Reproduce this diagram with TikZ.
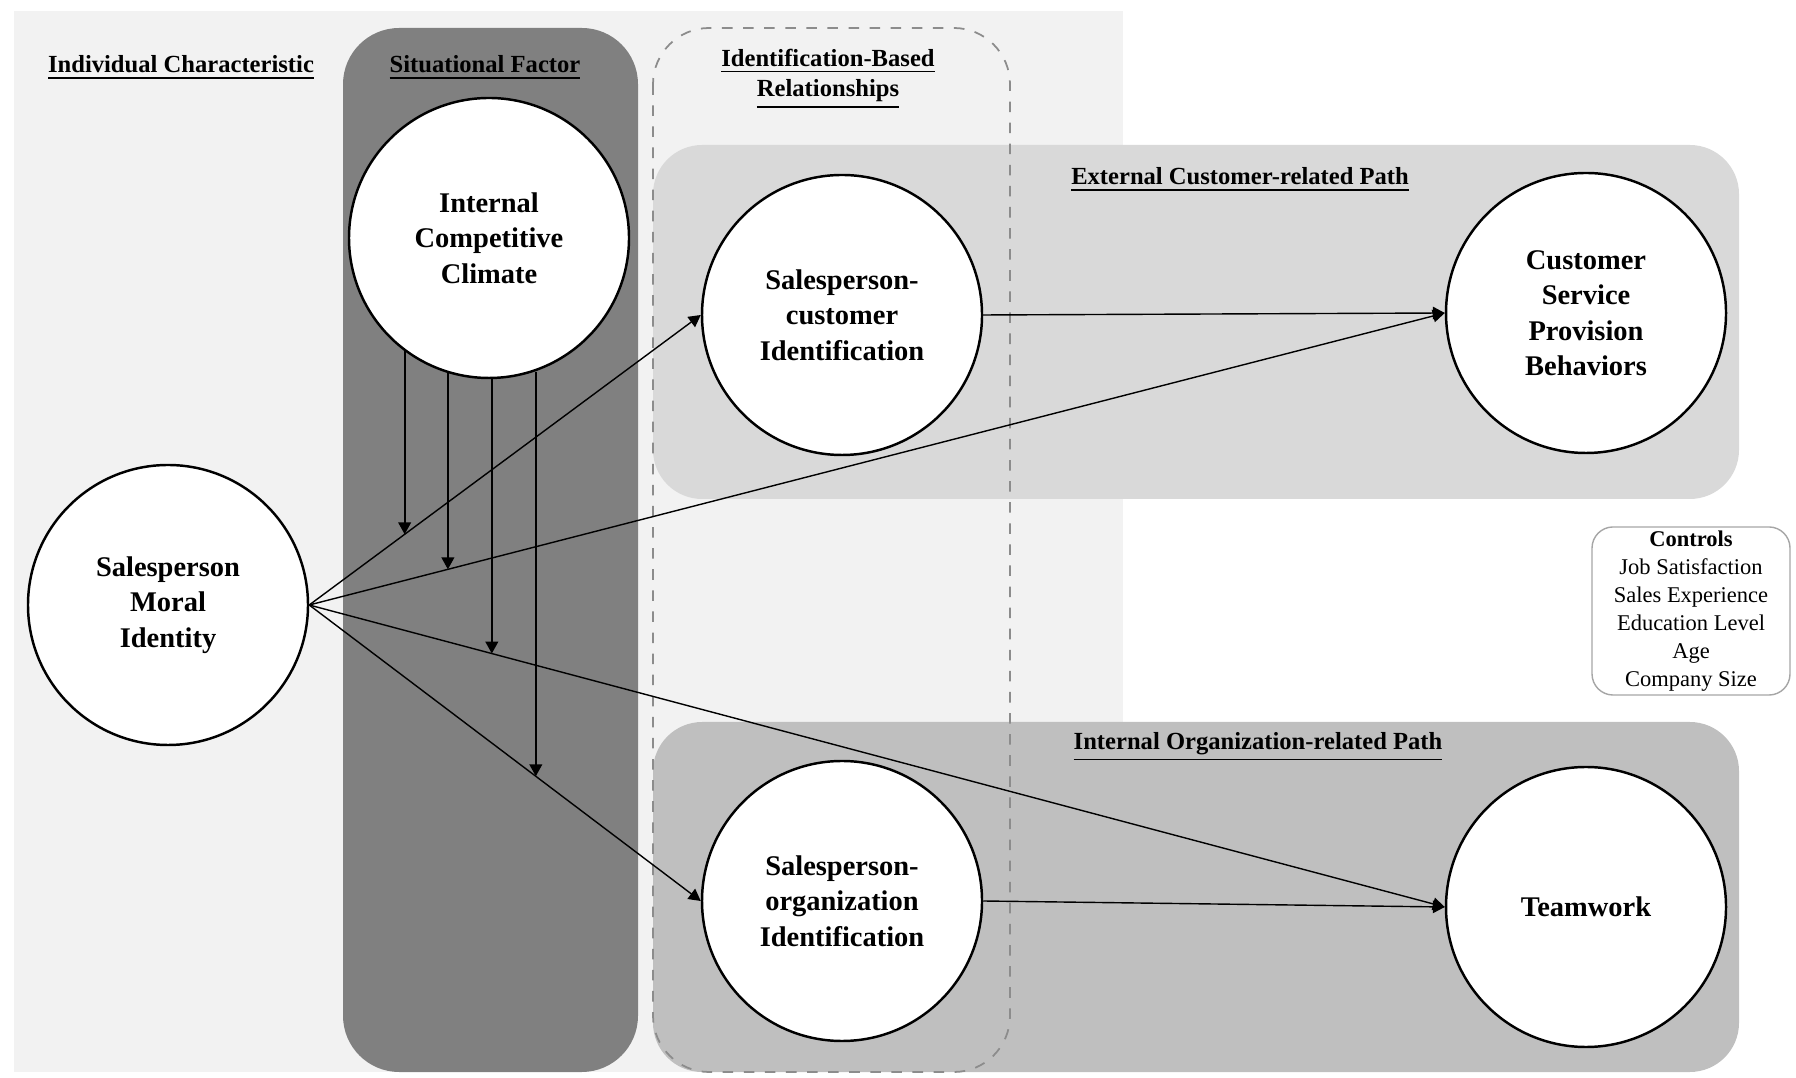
\documentclass[tikz,border=0pt]{standalone}
\usepackage{fontspec}
\setmainfont{Liberation Serif}
\usepackage{xcolor}
\usepackage{tikz}
\usetikzlibrary{positioning,arrows.meta,calc}
\definecolor{panelbg}{gray}{0.95}
\definecolor{situbg}{gray}{0.5}
\definecolor{extbg}{gray}{0.85}
\definecolor{intbg}{gray}{0.75}
\definecolor{dashgray}{gray}{0.55}

\begin{document}
\begin{tikzpicture}[
  every node/.style={font=\fontsize{7}{8.8}\selectfont},
  construct/.style={circle,draw,line width=0.7pt,fill=white,minimum size=2.8cm,inner sep=0pt,align=center,
    font=\bfseries\fontsize{8.1}{10.1}\selectfont},
  heading/.style={align=center,font=\bfseries\fontsize{7}{8.8}\selectfont},
  ctrlbox/.style={draw=gray!70,rounded corners=6pt,fill=white,align=center,minimum width=1.98cm,minimum height=1.66cm,
    inner sep=1pt,font=\fontsize{6.4}{8}\selectfont},
  path/.style={line width=0.4pt,-{Triangle[length=3.4pt,width=3.6pt]}},
  moder/.style={line width=0.55pt,-{Triangle[length=3.4pt,width=3.6pt]}} ]
  \useasboundingbox (0,0) rectangle (17.96,-10.78);

  % panels
  \fill[panelbg] (0.14,-0.11) rectangle (11.23,-10.72);
  \fill[situbg,rounded corners=16pt] (3.43,-0.28) rectangle (6.38,-10.72);
  \fill[extbg,rounded corners=14pt] (6.53,-1.45) rectangle (17.39,-4.99);
  \fill[intbg,rounded corners=14pt] (6.53,-7.22) rectangle (17.39,-10.72);
  \draw[dashgray,dashed,line width=0.5pt,rounded corners=16pt] (6.53,-0.28) rectangle (10.10,-10.72);

  \node[heading] (hind) at (1.81,-0.68) {\underline{Individual Characteristic}};
  \node[heading] (hsit) at (4.85,-0.68) {\underline{Situational Factor}};
  \node[heading] (hidb) at (8.28,-0.79) {\underline{Identification-Based}\\ \underline{Relationships}};
  \node[heading] (hext) at (12.40,-1.80) {\underline{External Customer-related Path}};
  \node[heading] (hint) at (12.58,-7.47) {\underline{Internal Organization-related Path}};

  \node[construct] (icc) at (4.89,-2.38) {Internal\\ Competitive\\ Climate};
  \node[construct] (mi) at (1.68,-6.05) {Salesperson\\ Moral\\ Identity};
  \node[construct] (sc) at (8.42,-3.15) {Salesperson-\\ customer\\ Identification};
  \node[construct] (so) at (8.42,-9.01) {Salesperson-\\ organization\\ Identification};
  \node[construct] (cs) at (15.86,-3.13) {Customer\\ Service\\ Provision\\ Behaviors};
  \node[construct] (tw) at (15.86,-9.07) {Teamwork};

  \node[ctrlbox] (ctrl) at (16.91,-6.11) {\textbf{Controls}\\ Job Satisfaction\\ Sales Experience\\ Education Level\\ Age\\ Company Size};

  \draw[path] (mi.east) -- coordinate[pos=0.2437] (m1) (sc.west);
  \draw[path] (mi.east) -- coordinate[pos=0.1221] (m2) (cs.west);
  \draw[path] (mi.east) -- coordinate[pos=0.1608] (m3) (tw.west);
  \draw[path] (mi.east) -- coordinate[pos=0.5787] (m4) (so.west);
  \draw[path] (sc.east) -- (cs.west);
  \draw[path] (so.east) -- (tw.west);

  \draw[moder] (m1 |- icc.232.6) -- (m1);
  \draw[moder] (m2 |- icc.252.5) -- (m2);
  \draw[moder] (m3 |- icc.270.8) -- (m3);
  \draw[moder] (m4 |- icc.289.6) -- (m4);
\end{tikzpicture}
\end{document}
